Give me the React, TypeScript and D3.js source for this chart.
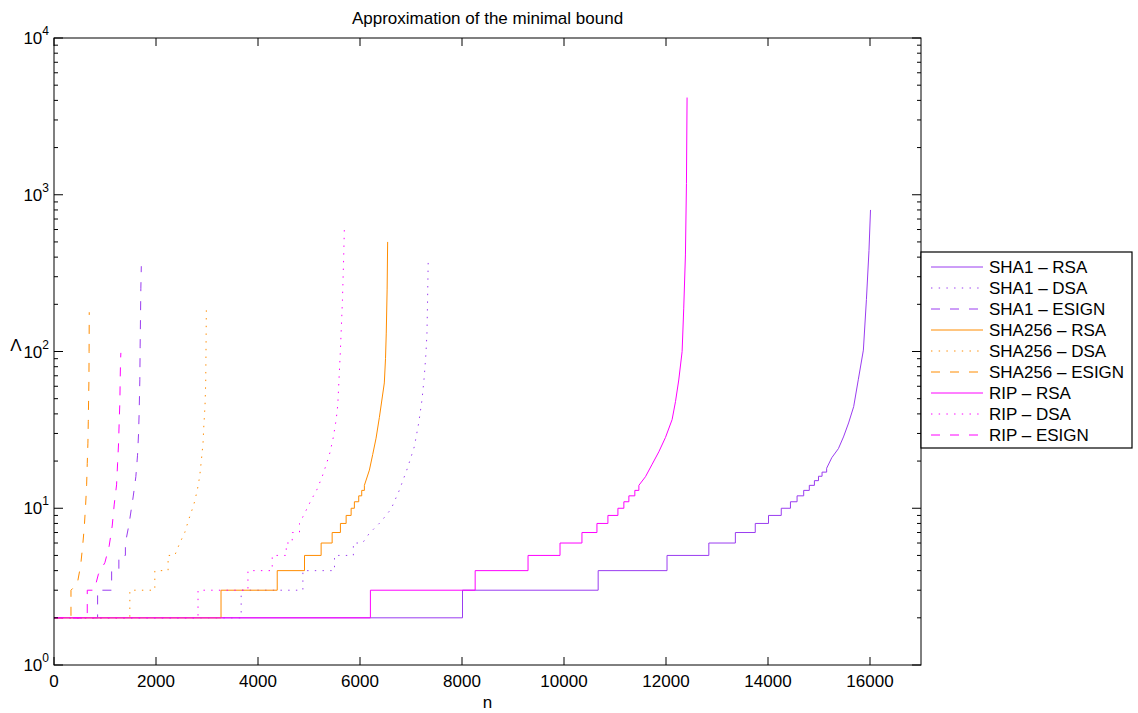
import React from "react";
import * as d3 from "d3";

// legend labels, in plotting order
const seriesLabels = [
  "SHA1 – RSA",
  "SHA1 – DSA",
  "SHA1 – ESIGN",
  "SHA256 – RSA",
  "SHA256 – DSA",
  "SHA256 – ESIGN",
  "RIP – RSA",
  "RIP – DSA",
  "RIP – ESIGN",
];

// step part: n where each level of Lambda starts, and the level
// tail part: the fast growing end of each curve
const sha1RsaStepN = [0, 8010, 10670, 12020, 12840, 13360, 13750, 14010, 14260, 14440, 14570, 14700, 14810, 14910, 14990, 15060, 15150];
const sha1RsaStepL = [2, 3, 4, 5, 6, 7, 8, 9, 10, 11, 12, 13, 14, 15, 16, 17, 18];
const sha1RsaTailN = [15250, 15380, 15480, 15580, 15680, 15770, 15870, 15930, 15980, 16010];
const sha1RsaTailL = [21, 24, 28.5, 35, 44.5, 66, 102, 215, 440, 800];

const sha1DsaStepN = [0, 3670, 4880, 5500, 5870];
const sha1DsaStepL = [2, 3, 4, 5, 6];
const sha1DsaTailN = [6050, 6180, 6410, 6610, 6770, 6930, 7065, 7150, 7215, 7260, 7293, 7313, 7325, 7338];
const sha1DsaTailL = [6, 6.9, 8.2, 9.9, 13, 18, 24.7, 34.8, 49, 69, 97, 131, 213, 390];

const sha1EsignStepN = [0, 855, 1130, 1272, 1400];
const sha1EsignStepL = [2, 3, 4, 5, 6];
const sha1EsignTailN = [1468, 1552, 1605, 1638, 1658, 1669, 1683, 1689, 1697, 1703, 1712];
const sha1EsignTailL = [7.8, 11.8, 15.9, 21.8, 30, 40, 66, 107, 174, 253, 350];

const sha256RsaStepN = [0, 3275, 4377, 4912, 5238, 5454, 5616, 5728, 5826, 5890, 5975, 6034, 6086];
const sha256RsaStepL = [2, 3, 4, 5, 6, 7, 8, 9, 10, 11, 12, 13, 14];
const sha256RsaTailN = [6184, 6249, 6315, 6380, 6440, 6477, 6500, 6515, 6532, 6542];
const sha256RsaTailL = [17.5, 22, 28, 38, 52, 63, 90, 131, 250, 500];

const sha256DsaStepN = [0, 1487, 1977, 2237];
const sha256DsaStepL = [2, 3, 4, 5];
const sha256DsaTailN = [2368, 2466, 2564, 2648, 2740, 2811, 2857, 2890, 2922, 2935, 2961, 2975, 2981, 2988];
const sha256DsaTailL = [5, 6, 7, 8.6, 10.5, 13.1, 16, 20.3, 26, 32.3, 45, 64, 107, 200];

const sha256EsignStepN = [0, 333];
const sha256EsignStepL = [2, 3];
const sha256EsignTailN = [456, 522, 561, 594, 620, 640, 652, 665, 672, 678, 685, 688, 691];
const sha256EsignTailL = [3.3, 4.3, 5.7, 7.6, 10.5, 14.1, 19.3, 26, 35.6, 47.6, 66, 100, 178];

const ripRsaStepN = [0, 6204, 8258, 9295, 9922, 10352, 10646, 10861, 11057, 11174, 11272, 11389, 11468];
const ripRsaStepL = [2, 3, 4, 5, 6, 7, 8, 9, 10, 11, 12, 13, 14];
const ripRsaTailN = [11598, 11729, 11859, 11990, 12120, 12186, 12250, 12316, 12348, 12381, 12401, 12413];
const ripRsaTailL = [15.9, 19.1, 22.9, 28.3, 36.8, 47.9, 65.8, 100, 189, 413, 1180, 4170];

const ripDsaStepN = [0, 2824, 3803, 4279, 4554, 4671, 4814];
const ripDsaStepL = [2, 3, 4, 5, 6, 7, 8];
const ripDsaTailN = [4930, 5043, 5153, 5258, 5336, 5415, 5479, 5532, 5564, 5616, 5656, 5680, 5695];
const ripDsaTailL = [9.5, 11.3, 13.1, 15.9, 18.9, 22.9, 28.6, 36.6, 45.5, 102, 214, 400, 640];

const ripEsignStepN = [0, 652];
const ripEsignStepL = [2, 3];
const ripEsignTailN = [789, 871, 998, 1082, 1141, 1180, 1227, 1247, 1266, 1278, 1292, 1297, 1305, 1311];
const ripEsignTailL = [3, 3.8, 4.5, 5.75, 7.7, 10.5, 14.1, 19.4, 26, 35.5, 48, 65, 88, 98];

const xTicks = [0, 2000, 4000, 6000, 8000, 10000, 12000, 14000, 16000];
const yDecades = [0, 1, 2, 3, 4];

const PURPLE = "#9a3cf0";
const ORANGE = "#ff8c00";
const MAGENTA = "#ff00ff";
const DOTTED = "1.4,6.3";
const DASHED = "9,10";

const series = [
  { stepN: sha1RsaStepN, stepL: sha1RsaStepL, tailN: sha1RsaTailN, tailL: sha1RsaTailL, color: PURPLE, dash: null },
  { stepN: sha1DsaStepN, stepL: sha1DsaStepL, tailN: sha1DsaTailN, tailL: sha1DsaTailL, color: PURPLE, dash: DOTTED },
  { stepN: sha1EsignStepN, stepL: sha1EsignStepL, tailN: sha1EsignTailN, tailL: sha1EsignTailL, color: PURPLE, dash: DASHED },
  { stepN: sha256RsaStepN, stepL: sha256RsaStepL, tailN: sha256RsaTailN, tailL: sha256RsaTailL, color: ORANGE, dash: null },
  { stepN: sha256DsaStepN, stepL: sha256DsaStepL, tailN: sha256DsaTailN, tailL: sha256DsaTailL, color: ORANGE, dash: DOTTED },
  { stepN: sha256EsignStepN, stepL: sha256EsignStepL, tailN: sha256EsignTailN, tailL: sha256EsignTailL, color: ORANGE, dash: DASHED },
  { stepN: ripRsaStepN, stepL: ripRsaStepL, tailN: ripRsaTailN, tailL: ripRsaTailL, color: MAGENTA, dash: null },
  { stepN: ripDsaStepN, stepL: ripDsaStepL, tailN: ripDsaTailN, tailL: ripDsaTailL, color: MAGENTA, dash: DOTTED },
  { stepN: ripEsignStepN, stepL: ripEsignStepL, tailN: ripEsignTailN, tailL: ripEsignTailL, color: MAGENTA, dash: DASHED },
];

// stair steps first, then the smooth end
function buildPoints(stepN: number[], stepL: number[], tailN: number[], tailL: number[]) {
  const pts: [number, number][] = [];
  stepN.forEach((n, i) => {
    pts.push([n, stepL[i]]);
    if (i < stepN.length - 1) pts.push([stepN[i + 1], stepL[i]]);
  });
  tailN.forEach((n, i) => pts.push([n, tailL[i]]));
  return pts;
}

const FONT = "'Liberation Sans', Arial, Helvetica, sans-serif";

export default function App() {
  const width = 1138, height = 713;
  const left = 54, right = 921, top = 38, bottom = 665;

  const x = d3.scaleLinear().domain([0, 17000]).range([left, right]);
  const y = d3.scaleLog().domain([1, 1e4]).range([bottom, top]);

  const line = d3
    .line<[number, number]>()
    .x((d) => x(d[0]))
    .y((d) => y(d[1]));

  const minorTicks: number[] = [];
  yDecades.slice(0, -1).forEach((k) => {
    for (let m = 2; m <= 9; m++) minorTicks.push(m * Math.pow(10, k));
  });

  const legX = 921, legY = 252, legW = 211, legH = 196;

  return (
    <div style={{ position: "absolute", left: 0, top: 0 }}>
      <svg width={width} height={height} style={{ display: "block", background: "#fff" }} fontFamily={FONT}>
        <rect x={0} y={0} width={width} height={height} fill="#fff" />

        {/* curves */}
        {series.map((s, i) => (
          <path
            key={i}
            d={line(buildPoints(s.stepN, s.stepL, s.tailN, s.tailL)) || ""}
            fill="none"
            stroke={s.color}
            strokeWidth={1}
            strokeDasharray={s.dash || undefined}
          />
        ))}

        {/* box */}
        <rect x={left} y={top} width={right - left} height={bottom - top} fill="none" stroke="#000" strokeWidth={1} />

        {/* x ticks */}
        {xTicks.map((t) => (
          <g key={"x" + t}>
            <line x1={x(t)} x2={x(t)} y1={bottom} y2={bottom - 8} stroke="#000" />
            <line x1={x(t)} x2={x(t)} y1={top} y2={top + 8} stroke="#000" />
            <text x={x(t)} y={bottom + 22} textAnchor="middle" fontSize={17}>
              {t}
            </text>
          </g>
        ))}

        {/* y ticks */}
        {yDecades.map((k) => {
          const yy = y(Math.pow(10, k));
          return (
            <g key={"y" + k}>
              <line x1={left} x2={left + 9} y1={yy} y2={yy} stroke="#000" />
              <line x1={right} x2={right - 9} y1={yy} y2={yy} stroke="#000" />
              <text x={49} y={yy + 6} textAnchor="end" fontSize={17}>
                10
                <tspan dy={-9} fontSize={12}>
                  {k}
                </tspan>
              </text>
            </g>
          );
        })}
        {minorTicks.map((t) => (
          <g key={"m" + t}>
            <line x1={left} x2={left + 4} y1={y(t)} y2={y(t)} stroke="#000" />
            <line x1={right} x2={right - 4} y1={y(t)} y2={y(t)} stroke="#000" />
          </g>
        ))}

        {/* titles */}
        <text x={(left + right) / 2} y={24} textAnchor="middle" fontSize={17}>
          Approximation of the minimal bound
        </text>
        <text x={(left + right) / 2} y={708} textAnchor="middle" fontSize={17}>
          n
        </text>
        <text x={16} y={351} textAnchor="middle" fontSize={17}>
          Λ
        </text>

        {/* legend */}
        <rect x={legX} y={legY} width={legW} height={legH} fill="#fff" stroke="#000" strokeWidth={1.2} />
        {seriesLabels.map((lab, i) => {
          const ly = legY + 15 + i * 21;
          const s = series[i];
          return (
            <g key={"l" + i}>
              <line x1={legX + 10} x2={legX + 62} y1={ly} y2={ly} stroke={s.color} strokeWidth={1} strokeDasharray={s.dash || undefined} />
              <text x={legX + 68} y={ly + 6} fontSize={17}>
                {lab}
              </text>
            </g>
          );
        })}
      </svg>
    </div>
  );
}
